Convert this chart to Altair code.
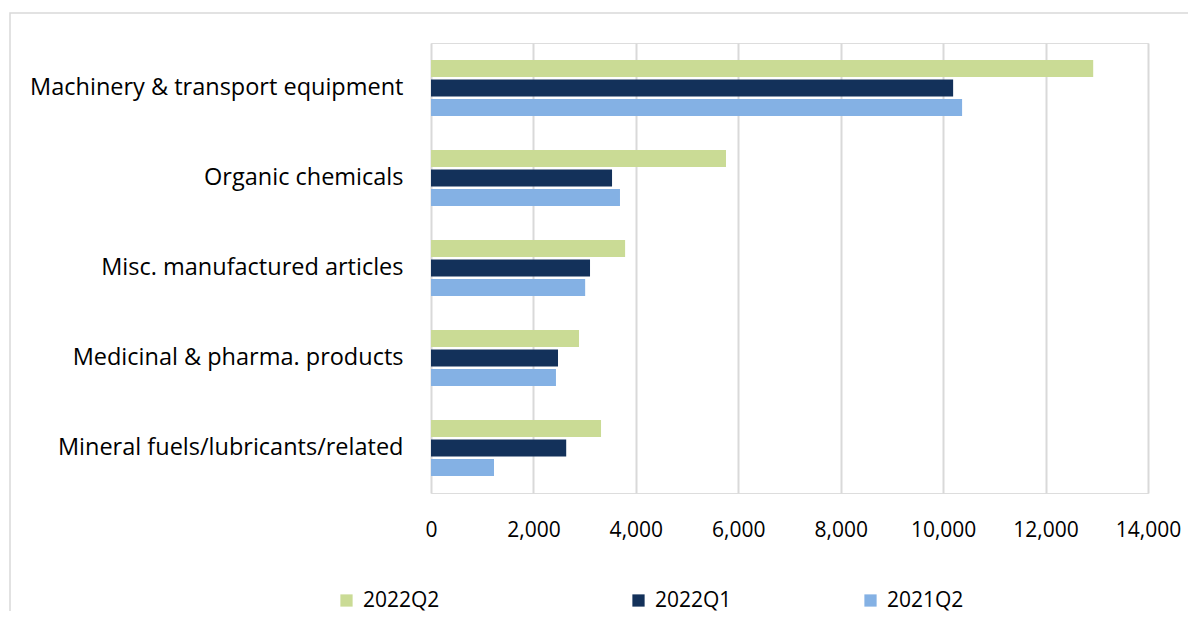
import altair as alt
import pandas as pd

categories = [
    "Machinery & transport equipment",
    "Organic chemicals",
    "Misc. manufactured articles",
    "Medicinal & pharma. products",
    "Mineral fuels/lubricants/related",
]
series = ["2022Q2", "2022Q1", "2021Q2"]
v_2022q2 = [12930, 5760, 3790, 2890, 3320]
v_2022q1 = [10195, 3535, 3105, 2480, 2640]
v_2021q2 = [10370, 3690, 3010, 2440, 1230]
colors = ["#CADB95", "#13315A", "#84B1E4"]

rows = []
for s, vals in zip(series, [v_2022q2, v_2022q1, v_2021q2]):
    for c, v in zip(categories, vals):
        rows.append({"category": c, "series": s, "value": v})
df = pd.DataFrame(rows)

FONT = "Open Sans"
PAD = "\u00a0" * 11 + "\u200b"

frame = alt.Chart(pd.DataFrame({"a": [0]})).mark_rect(
    fill=None, stroke="#D9D9D9", strokeWidth=1.5
).encode(
    x=alt.value(-421), x2=alt.value(790), y=alt.value(-30), y2=alt.value(620)
)

bars = alt.Chart(df).mark_bar(size=17).encode(
    y=alt.Y("category:N", sort=categories,
            scale=alt.Scale(paddingInner=0.37, paddingOuter=0.185),
            axis=alt.Axis(title=None, ticks=False, domain=False, labelFontSize=23.5,
                          labelFont=FONT, labelColor="#000000", labelPadding=28,
                          labelLimit=500)),
    yOffset=alt.YOffset("series:N", sort=series, scale=alt.Scale(paddingInner=0.1)),
    x=alt.X("value:Q", scale=alt.Scale(domain=[0, 14000], nice=False),
            axis=alt.Axis(title=None, values=list(range(0, 14001, 2000)), format=",.0f",
                          ticks=False, domain=False, grid=True, gridColor="#D9D9D9",
                          gridWidth=2, labelFontSize=21, labelFont=FONT,
                          labelColor="#000000", labelPadding=26, labelFlush=False)),
    color=alt.Color("series:N", sort=series,
                    scale=alt.Scale(domain=series, range=colors),
                    legend=alt.Legend(title=None, orient="none", legendX=-95, legendY=547,
                                      direction="horizontal", symbolType="square",
                                      symbolSize=150, symbolStrokeWidth=0,
                                      labelFontSize=21, labelFont=FONT,
                                      labelColor="#000000", columnPadding=128,
                                      gridAlign="none", labelLimit=300,
                                      labelExpr="datum.label == '2022Q2' ? datum.label + '" + PAD + "' : datum.label",
                                      symbolOffset=0, labelOffset=6)),
)

chart = alt.layer(frame, bars).properties(
    width=717, height=450,
    autosize=alt.AutoSizeParams(type="none"),
    padding={"left": 423, "top": 35, "right": 40, "bottom": 118},
).configure_view(stroke=None).configure(background="white")

chart.save("out.html", embed_options={"renderer": "svg", "actions": False})
